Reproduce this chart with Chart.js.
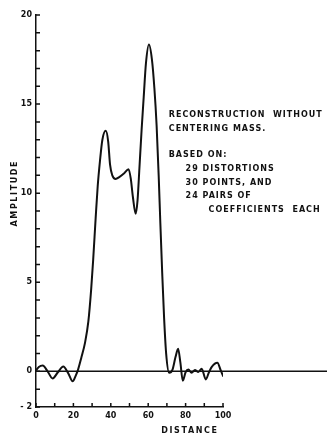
<!DOCTYPE html>
<html>
<head>
<meta charset="utf-8">
<script src="https://cdn.jsdelivr.net/npm/chart.js@4"></script>
<style>
  html, body { margin: 0; padding: 0; background: #fff; }
  canvas { display: block; }
</style>
</head>
<body>
<canvas id="c" width="327" height="436"></canvas>
<script>
// Reconstructed profile: amplitude against distance
const distance = [
  0, 1.5, 3.6, 6.2, 8.9, 11.7, 14.6, 17.2, 19.6, 21.2, 22.5, 24.2, 26.2, 28.0,
  29.5, 30.6, 31.9, 33.0, 34.2, 35.5, 37.3, 38.6, 39.6, 40.8, 42.6, 44.5, 47.0,
  49.5, 50.7, 51.8, 53.3, 54.3, 55.3, 56.5, 57.6, 58.8, 60.4, 62.0, 63.3, 64.5,
  65.6, 66.5, 67.5, 68.5, 69.6, 71.2, 73.0, 74.6, 76.0, 77.2, 78.5, 80.0, 81.5,
  83.2, 85.0, 86.8, 88.6, 90.8, 92.5, 94.0, 97.0, 98.8, 100.2
];
const amplitude = [
  0.05, 0.25, 0.33, 0.0, -0.4, -0.05, 0.27, -0.1, -0.56, -0.25, 0.1, 0.75, 1.6, 2.8,
  4.6, 6.3, 8.6, 10.4, 11.8, 13.0, 13.5, 12.9, 11.6, 11.0, 10.8, 10.9, 11.1,
  11.35, 10.8, 9.8, 8.85, 9.6, 11.4, 13.6, 15.4, 17.3, 18.35, 17.5, 15.9, 13.8,
  11.0, 8.3, 5.5, 3.0, 1.0, -0.08, 0.1, 0.8, 1.27, 0.5, -0.52, -0.05, 0.1,
  -0.08, 0.08, -0.03, 0.15, -0.45, -0.05, 0.25, 0.48, 0.05, -0.3
];

// Baseline at zero amplitude, running to the right edge
const baselineX = [0, 156];
const baselineY = [0, 0];

// Axis ticks
const xTicks = [0, 10, 20, 30, 40, 50, 60, 70, 80, 90, 100];
const xTickLabels = { 0: '0', 20: '20', 40: '40', 60: '60', 80: '80', 100: '100' };
const yTicks = [-2, -1, 0, 1, 2, 3, 4, 5, 6, 7, 8, 9, 10, 11, 12, 13, 14, 15, 16, 17, 18, 19, 20];
const yTickLabels = { '-2': '- 2', 0: '0', 5: '5', 10: '10', 15: '15', 20: '20' };

// Annotation block: [text, x (distance), y (amplitude)]
const noteLines = [
  ['RECONSTRUCTION  WITHOUT', 71.0, 14.4],
  ['CENTERING MASS.',         71.0, 13.6],
  ['BASED ON:',               71.0, 12.15],
  ['29 DISTORTIONS',          80.0, 11.35],
  ['30 POINTS, AND',          80.0, 10.6],
  ['24 PAIRS OF',             80.0, 9.85],
  ['COEFFICIENTS  EACH',      92.3, 9.05]
];

const axisTitleX = 'DISTANCE';
const axisTitleY = 'AMPLITUDE';

const INK = '#111';
const LETTER_FONT = 'bold 8px "DejaVu Sans"';

function spacedText(ctx, text, x, y, spacing, align) {
  ctx.save();
  ctx.letterSpacing = spacing + 'px';
  ctx.textAlign = align || 'left';
  ctx.fillText(text, x, y);
  ctx.restore();
}

const decorations = {
  id: 'decorations',
  afterDraw(chart) {
    const ctx = chart.ctx;
    const xs = chart.scales.x, ys = chart.scales.y;
    const area = chart.chartArea;
    ctx.save();
    ctx.strokeStyle = INK;
    ctx.lineWidth = 1.5;
    // inward tick marks
    ctx.beginPath();
    yTicks.forEach(v => {
      const py = ys.getPixelForValue(v);
      ctx.moveTo(area.left, py);
      ctx.lineTo(area.left + 4, py);
    });
    xTicks.forEach(v => {
      const px = xs.getPixelForValue(v);
      ctx.moveTo(px, area.bottom);
      ctx.lineTo(px, area.bottom - 4);
    });
    ctx.stroke();

    ctx.fillStyle = INK;
    ctx.font = LETTER_FONT;
    ctx.textBaseline = 'middle';
    noteLines.forEach(([t, dx, ay]) => {
      spacedText(ctx, t, xs.getPixelForValue(dx), ys.getPixelForValue(ay), 1.0, 'left');
    });

    // axis titles
    spacedText(ctx, axisTitleX, xs.getPixelForValue(82.3), area.bottom + 24, 1.6, 'center');
    ctx.translate(15, ys.getPixelForValue(10));
    ctx.rotate(-Math.PI / 2);
    spacedText(ctx, axisTitleY, 0, 0, 1.6, 'center');
    ctx.restore();
  }
};

new Chart(document.getElementById('c'), {
  type: 'line',
  data: {
    datasets: [
      {
        data: distance.map((d, i) => ({ x: d, y: amplitude[i] })),
        borderColor: INK,
        borderWidth: 2,
        pointRadius: 0,
        fill: false,
        cubicInterpolationMode: 'monotone'
      },
      {
        data: baselineX.map((d, i) => ({ x: d, y: baselineY[i] })),
        borderColor: INK,
        borderWidth: 1.5,
        pointRadius: 0,
        fill: false,
        clip: false
      }
    ]
  },
  options: {
    responsive: false,
    animation: false,
    devicePixelRatio: 1,
    layout: { padding: { top: 15, right: 104, left: 0, bottom: 0 } },
    plugins: { legend: { display: false }, tooltip: { enabled: false } },
    scales: {
      x: {
        type: 'linear',
        min: 0,
        max: 100,
        afterBuildTicks: s => { s.ticks = xTicks.map(v => ({ value: v })); },
        afterFit: s => { s.height = 29; },
        ticks: {
          autoSkip: false,
          maxRotation: 0,
          padding: 4,
          color: INK,
          font: { family: 'DejaVu Sans', size: 8, weight: 'bold' },
          callback: v => xTickLabels[v] || ''
        },
        grid: { drawOnChartArea: false, drawTicks: false },
        border: { display: true, color: INK, width: 1.5 }
      },
      y: {
        min: -2,
        max: 20,
        afterBuildTicks: s => { s.ticks = yTicks.map(v => ({ value: v })); },
        afterFit: s => { s.width = 36; },
        ticks: {
          autoSkip: false,
          padding: 4,
          color: INK,
          font: { family: 'DejaVu Sans', size: 8, weight: 'bold' },
          callback: v => yTickLabels[v] || ''
        },
        grid: { drawOnChartArea: false, drawTicks: false },
        border: { display: true, color: INK, width: 1.5 }
      }
    }
  },
  plugins: [decorations]
});
</script>
</body>
</html>
